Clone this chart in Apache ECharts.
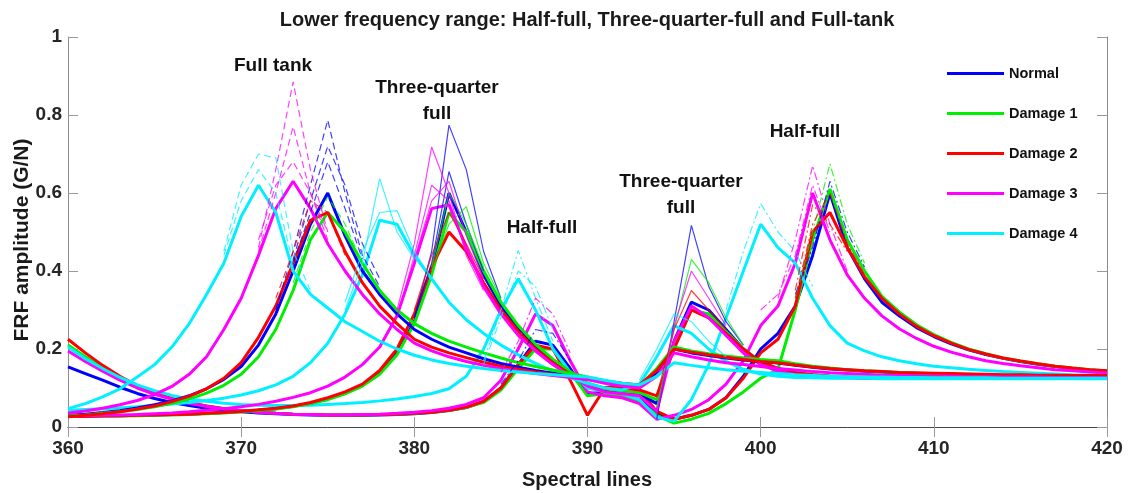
<!DOCTYPE html>
<html><head><meta charset="utf-8">
<script src="https://cdn.jsdelivr.net/npm/echarts@6/dist/echarts.min.js"></script>
<style>html,body{margin:0;padding:0;background:#fff}#c{width:1131px;height:493px}</style>
</head><body><div id="c"></div>
<script>
// ---------- DATA ----------
const spectralLines = [360,361,362,363,364,365,366,367,368,369,370,371,372,373,374,375,376,377,378,379,380,381,382,383,384,385,386,387,388,389,390,391,392,393,394,395,396,397,398,399,400,401,402,403,404,405,406,407,408,409,410,411,412,413,414,415,416,417,418,419,420];
const xTickLabels = ['360','370','380','390','400','410','420'];
const yTickLabels = ['0','0.2','0.4','0.6','0.8','1'];
const damageNames = ['Normal','Damage 1','Damage 2','Damage 3','Damage 4'];

// Full tank (dashed in original)
const fullNormal = [0.030,0.033,0.037,0.042,0.049,0.057,0.067,0.080,0.098,0.122,
 0.155,0.21,0.29,0.40,0.52,0.60,0.49,0.40,0.34,0.29,
 0.25,0.225,0.205,0.19,0.175,0.163,0.153,0.145,0.138,0.13,
 0.124,0.115,0.108,0.105,0.14,0.2,0.19,0.183,0.177,0.172,
 0.168,0.164,0.158,0.153,0.149,0.146,0.143,0.141,0.139,0.137,
 0.136,0.135,0.134,0.133,0.132,0.132,0.131,0.131,0.13,0.13,0.13];
const fullDamage1 = [0.028,0.031,0.035,0.039,0.045,0.052,0.061,0.072,0.087,0.107,
 0.135,0.18,0.25,0.35,0.48,0.55,0.50,0.42,0.35,0.30,
 0.265,0.24,0.22,0.205,0.19,0.177,0.165,0.155,0.146,0.137,
 0.128,0.118,0.11,0.105,0.15,0.205,0.195,0.188,0.182,0.177,
 0.173,0.17,0.162,0.156,0.151,0.147,0.144,0.142,0.14,0.138,
 0.137,0.136,0.135,0.134,0.133,0.133,0.132,0.132,0.131,0.131,0.131];
const fullDamage2 = [0.026,0.03,0.034,0.039,0.046,0.054,0.065,0.079,0.098,0.125,
 0.165,0.23,0.31,0.42,0.53,0.55,0.45,0.37,0.31,0.265,
 0.225,0.205,0.19,0.178,0.166,0.156,0.148,0.141,0.135,0.128,
 0.122,0.118,0.112,0.108,0.145,0.2,0.192,0.185,0.179,0.173,
 0.168,0.165,0.159,0.154,0.15,0.147,0.144,0.142,0.14,0.139,
 0.138,0.137,0.136,0.135,0.134,0.134,0.133,0.133,0.132,0.132,0.132];
const fullDamage3 = [0.036,0.041,0.048,0.057,0.068,0.083,0.104,0.135,0.18,0.25,
 0.33,0.44,0.56,0.63,0.56,0.47,0.40,0.34,0.29,0.25,
 0.215,0.195,0.18,0.168,0.158,0.15,0.143,0.137,0.132,0.127,
 0.122,0.112,0.105,0.1,0.13,0.19,0.18,0.172,0.165,0.16,
 0.155,0.15,0.146,0.142,0.139,0.137,0.135,0.133,0.132,0.131,
 0.13,0.13,0.129,0.129,0.128,0.128,0.128,0.127,0.127,0.127,0.127];
const fullDamage4 = [0.047,0.06,0.077,0.098,0.128,0.16,0.205,0.265,0.34,0.42,
 0.54,0.62,0.55,0.40,0.34,0.305,0.27,0.245,0.22,0.2,
 0.184,0.172,0.163,0.156,0.15,0.145,0.141,0.137,0.134,0.131,
 0.128,0.12,0.112,0.108,0.13,0.165,0.158,0.152,0.147,0.143,
 0.14,0.137,0.134,0.132,0.13,0.129,0.128,0.128,0.127,0.127,
 0.126,0.126,0.126,0.126,0.125,0.125,0.125,0.125,0.125,0.125,0.125];

// Three-quarter full (solid)
const tqNormal = [0.028,0.028,0.029,0.029,0.03,0.031,0.032,0.033,0.035,0.037,
 0.04,0.043,0.047,0.053,0.061,0.072,0.087,0.108,0.14,0.19,
 0.27,0.4,0.6,0.5,0.39,0.31,0.25,0.205,0.168,0.138,
 0.11,0.096,0.09,0.085,0.06,0.22,0.32,0.3,0.25,0.2,
 0.165,0.148,0.138,0.132,0.129,0.127,0.126,0.126,0.125,0.125,
 0.125,0.125,0.125,0.125,0.125,0.125,0.125,0.125,0.125,0.125,0.125];
const tqDamage1 = [0.027,0.027,0.028,0.028,0.029,0.03,0.031,0.032,0.034,0.036,
 0.039,0.042,0.046,0.052,0.06,0.07,0.085,0.105,0.135,0.185,
 0.265,0.39,0.55,0.5,0.4,0.32,0.26,0.212,0.174,0.142,
 0.113,0.098,0.092,0.088,0.07,0.21,0.3,0.29,0.245,0.2,
 0.167,0.15,0.14,0.134,0.131,0.129,0.128,0.128,0.127,0.127,
 0.127,0.127,0.127,0.127,0.127,0.127,0.127,0.127,0.127,0.127,0.127];
const tqDamage2 = [0.027,0.027,0.028,0.029,0.03,0.031,0.032,0.033,0.035,0.037,
 0.04,0.044,0.048,0.054,0.063,0.075,0.09,0.11,0.145,0.2,
 0.29,0.41,0.5,0.45,0.37,0.3,0.245,0.2,0.165,0.135,
 0.11,0.1,0.1,0.095,0.08,0.2,0.3,0.28,0.24,0.2,
 0.167,0.15,0.14,0.134,0.13,0.128,0.127,0.127,0.126,0.126,
 0.126,0.126,0.126,0.126,0.126,0.126,0.126,0.126,0.126,0.126,0.126];
const tqDamage3 = [0.028,0.029,0.03,0.031,0.032,0.034,0.036,0.039,0.043,0.047,
 0.052,0.058,0.066,0.076,0.088,0.105,0.128,0.16,0.205,0.285,
 0.42,0.56,0.57,0.46,0.36,0.29,0.235,0.195,0.16,0.13,
 0.105,0.09,0.085,0.08,0.04,0.22,0.31,0.28,0.235,0.19,
 0.16,0.143,0.134,0.129,0.127,0.126,0.125,0.125,0.125,0.125,
 0.125,0.125,0.125,0.125,0.125,0.125,0.125,0.125,0.125,0.125,0.125];
const tqDamage4 = [0.043,0.045,0.047,0.049,0.052,0.055,0.059,0.063,0.068,0.074,
 0.082,0.093,0.108,0.13,0.165,0.215,0.29,0.39,0.53,0.52,
 0.44,0.38,0.32,0.275,0.24,0.21,0.185,0.163,0.143,0.126,
 0.112,0.1,0.095,0.11,0.18,0.26,0.24,0.2,0.168,0.148,
 0.136,0.13,0.127,0.126,0.125,0.125,0.125,0.124,0.124,0.124,
 0.124,0.124,0.124,0.124,0.124,0.124,0.124,0.124,0.124,0.124,0.124];

// Half-full (dash-dot)
const halfNormal = [0.154,0.137,0.12,0.102,0.086,0.073,0.063,0.055,0.048,0.043,
 0.039,0.036,0.034,0.032,0.031,0.03,0.03,0.03,0.031,0.032,
 0.034,0.037,0.042,0.05,0.065,0.1,0.16,0.22,0.21,0.15,
 0.085,0.09,0.085,0.07,0.035,0.02,0.03,0.045,0.075,0.13,
 0.2,0.24,0.31,0.44,0.6,0.46,0.38,0.32,0.285,0.255,
 0.232,0.213,0.198,0.186,0.176,0.168,0.161,0.155,0.15,0.146,0.143];
const halfDamage1 = [0.21,0.18,0.152,0.126,0.104,0.086,0.072,0.062,0.054,0.047,
 0.042,0.038,0.035,0.033,0.032,0.031,0.031,0.031,0.032,0.033,
 0.035,0.038,0.043,0.05,0.063,0.095,0.15,0.2,0.2,0.14,
 0.08,0.085,0.08,0.065,0.03,0.01,0.02,0.035,0.06,0.09,
 0.125,0.148,0.3,0.48,0.61,0.48,0.4,0.335,0.295,0.262,
 0.237,0.217,0.2,0.188,0.177,0.169,0.162,0.156,0.151,0.147,0.144];
const halfDamage2 = [0.225,0.19,0.158,0.13,0.106,0.087,0.073,0.062,0.054,0.047,
 0.042,0.038,0.035,0.033,0.032,0.031,0.031,0.031,0.032,0.033,
 0.035,0.038,0.043,0.051,0.066,0.1,0.16,0.21,0.2,0.12,
 0.03,0.1,0.11,0.095,0.04,0.02,0.03,0.045,0.075,0.125,
 0.19,0.225,0.31,0.5,0.55,0.46,0.385,0.33,0.29,0.258,
 0.234,0.215,0.199,0.187,0.177,0.169,0.162,0.156,0.151,0.147,0.144];
const halfDamage3 = [0.195,0.168,0.143,0.12,0.1,0.084,0.071,0.061,0.053,0.047,
 0.042,0.038,0.035,0.033,0.032,0.031,0.031,0.032,0.033,0.035,
 0.038,0.042,0.048,0.058,0.075,0.12,0.2,0.29,0.26,0.17,
 0.09,0.08,0.075,0.06,0.02,0.03,0.045,0.07,0.11,0.17,
 0.26,0.31,0.42,0.6,0.48,0.39,0.33,0.285,0.252,0.227,
 0.207,0.192,0.18,0.17,0.163,0.157,0.152,0.147,0.144,0.141,0.138];
const halfDamage4 = [0.205,0.175,0.15,0.127,0.108,0.093,0.081,0.072,0.066,0.061,
 0.058,0.056,0.055,0.055,0.056,0.058,0.06,0.063,0.067,0.072,
 0.078,0.086,0.098,0.13,0.2,0.3,0.38,0.3,0.2,0.14,
 0.1,0.09,0.085,0.07,0.025,0.015,0.07,0.16,0.28,0.4,
 0.52,0.46,0.42,0.33,0.26,0.215,0.195,0.18,0.17,0.162,
 0.156,0.152,0.148,0.145,0.142,0.14,0.138,0.136,0.134,0.133,0.132];

// Individual repeat measurements that stand out near the peaks ([spectral line, amplitude])
const fullNormalRepA = [[372,0.3],[373,0.45],[374,0.62],[375,0.787],[376,0.6],[377,0.44],[378,0.36]];
const fullNormalRepB = [[373,0.42],[374,0.55],[375,0.68],[376,0.56],[377,0.43]];
const fullNormalRepC = [[373,0.43],[374,0.58],[375,0.72],[376,0.62],[377,0.47],[378,0.38]];
const fullDamage1Rep = [[373,0.37],[374,0.5],[375,0.59],[376,0.52],[377,0.42]];
const fullDamage2Rep = [[372,0.33],[373,0.45],[374,0.58],[375,0.55],[376,0.44]];
const fullDamage3RepA = [[371,0.46],[372,0.66],[373,0.885],[374,0.66],[375,0.5]];
const fullDamage3RepB = [[371,0.45],[372,0.6],[373,0.77],[374,0.6],[375,0.48]];
const fullDamage3RepC = [[371,0.48],[372,0.62],[373,0.68],[374,0.6],[375,0.5]];
const fullDamage4Rep = [[369,0.45],[370,0.62],[371,0.70],[372,0.69],[373,0.45],[374,0.35]];
const fullDamage4RepB = [[369,0.44],[370,0.58],[371,0.66],[372,0.6],[373,0.42]];
const tqNormalRepA = [[380,0.28],[381,0.45],[382,0.774],[383,0.66],[384,0.45],[385,0.33]];
const tqNormalRepB = [[380,0.28],[381,0.42],[382,0.655],[383,0.52],[384,0.4]];
const tqDamage1Rep = [[381,0.4],[382,0.52],[383,0.565],[384,0.42],[385,0.33]];
const tqDamage1RepB = [[381,0.41],[382,0.6],[383,0.52],[384,0.41]];
const tqDamage2Rep = [[380,0.3],[381,0.44],[382,0.55],[383,0.47],[384,0.38]];
const tqDamage3RepA = [[379,0.3],[380,0.47],[381,0.718],[382,0.6],[383,0.44],[384,0.35]];
const tqDamage3RepB = [[379,0.28],[380,0.44],[381,0.62],[382,0.58],[383,0.45]];
const tqDamage3RepC = [[380,0.43],[381,0.58],[382,0.63],[383,0.49],[384,0.38]];
const tqDamage4RepA = [[376,0.3],[377,0.42],[378,0.637],[379,0.5],[380,0.43]];
const tqDamage4RepB = [[376,0.32],[377,0.45],[378,0.55],[379,0.555],[380,0.45],[381,0.38]];
const tqNormalRep2 = [[394,0.02],[395,0.27],[396,0.517],[397,0.36],[398,0.27],[399,0.21]];
const tqDamage1Rep2 = [[394,0.05],[395,0.25],[396,0.43],[397,0.37],[398,0.28],[399,0.21]];
const tqDamage2Rep2 = [[394,0.08],[395,0.25],[396,0.35],[397,0.3],[398,0.25]];
const tqDamage3Rep2 = [[394,0.03],[395,0.26],[396,0.40],[397,0.33],[398,0.26]];
const tqDamage4Rep2 = [[393,0.12],[394,0.2],[395,0.29],[396,0.27],[397,0.22],[398,0.18]];
const halfDamage4RepA = [[384,0.17],[385,0.3],[386,0.453],[387,0.33],[388,0.22]];
const halfDamage4RepB = [[384,0.16],[385,0.28],[386,0.4],[387,0.36],[388,0.25]];
const halfDamage3Rep = [[385,0.14],[386,0.22],[387,0.33],[388,0.29],[389,0.19]];
const halfNormalRep = [[385,0.11],[386,0.17],[387,0.25],[388,0.24],[389,0.17]];
const halfDamage4Rep2 = [[398,0.3],[399,0.45],[400,0.573],[401,0.5],[402,0.45],[403,0.36]];
const halfDamage3Rep2 = [[401,0.33],[402,0.48],[403,0.67],[404,0.52],[405,0.4]];
const halfDamage3RepB = [[400,0.3],[401,0.34],[402,0.44],[403,0.62],[404,0.5]];
const halfDamage1Rep2 = [[402,0.33],[403,0.5],[404,0.675],[405,0.52],[406,0.42]];
const halfNormalRep2 = [[402,0.34],[403,0.46],[404,0.63],[405,0.5],[406,0.41]];
const halfDamage2Rep2 = [[402,0.35],[403,0.57],[404,0.52],[405,0.45]];
const halfDamage2RepB = [[402,0.33],[403,0.52],[404,0.6],[405,0.47],[406,0.39]];

// ---------- STYLE ----------
const colors = {'Normal':'#0000ff','Damage 1':'#00ee00','Damage 2':'#ff0000','Damage 3':'#ff00ff','Damage 4':'#00f0ff'};
const FONT = '"Liberation Sans", Arial, Helvetica, sans-serif';
const DASH = [7,4];
const DASHDOT = [8,3,2,3];

function mainSeries(name, arr) {
  return {type:'line', name, data: spectralLines.map((x,i)=>[x,arr[i]]), symbol:'none',
    lineStyle:{color:colors[name], width:3}, itemStyle:{color:colors[name]}, silent:true, z:2};
}
function repSeries(name, pairs, type) {
  return {type:'line', name, data: pairs, symbol:'none',
    lineStyle:{color:colors[name], width:1.2, type, opacity:0.75}, itemStyle:{color:colors[name]}, silent:true, z:3};
}

const series = [
  mainSeries('Normal', halfNormal), mainSeries('Damage 1', halfDamage1), mainSeries('Damage 2', halfDamage2),
  mainSeries('Damage 3', halfDamage3), mainSeries('Damage 4', halfDamage4),
  mainSeries('Normal', tqNormal), mainSeries('Damage 1', tqDamage1), mainSeries('Damage 2', tqDamage2),
  mainSeries('Damage 3', tqDamage3), mainSeries('Damage 4', tqDamage4),
  mainSeries('Normal', fullNormal), mainSeries('Damage 1', fullDamage1), mainSeries('Damage 2', fullDamage2),
  mainSeries('Damage 3', fullDamage3), mainSeries('Damage 4', fullDamage4),
  repSeries('Normal', fullNormalRepA, DASH), repSeries('Normal', fullNormalRepB, DASH), repSeries('Normal', fullNormalRepC, DASH),
  repSeries('Damage 1', fullDamage1Rep, DASH), repSeries('Damage 2', fullDamage2Rep, DASH),
  repSeries('Damage 3', fullDamage3RepA, DASH), repSeries('Damage 3', fullDamage3RepB, DASH), repSeries('Damage 3', fullDamage3RepC, DASH),
  repSeries('Damage 4', fullDamage4Rep, DASH), repSeries('Damage 4', fullDamage4RepB, DASH),
  repSeries('Normal', tqNormalRepA, 'solid'), repSeries('Normal', tqNormalRepB, 'solid'),
  repSeries('Damage 1', tqDamage1Rep, 'solid'), repSeries('Damage 1', tqDamage1RepB, 'solid'),
  repSeries('Damage 2', tqDamage2Rep, 'solid'),
  repSeries('Damage 3', tqDamage3RepA, 'solid'), repSeries('Damage 3', tqDamage3RepB, 'solid'), repSeries('Damage 3', tqDamage3RepC, 'solid'),
  repSeries('Damage 4', tqDamage4RepA, 'solid'), repSeries('Damage 4', tqDamage4RepB, 'solid'),
  repSeries('Normal', tqNormalRep2, 'solid'), repSeries('Damage 1', tqDamage1Rep2, 'solid'),
  repSeries('Damage 2', tqDamage2Rep2, 'solid'), repSeries('Damage 3', tqDamage3Rep2, 'solid'),
  repSeries('Damage 4', tqDamage4Rep2, 'solid'),
  repSeries('Damage 4', halfDamage4RepA, DASHDOT), repSeries('Damage 4', halfDamage4RepB, DASHDOT),
  repSeries('Damage 3', halfDamage3Rep, DASHDOT), repSeries('Normal', halfNormalRep, DASHDOT),
  repSeries('Damage 4', halfDamage4Rep2, DASHDOT),
  repSeries('Damage 3', halfDamage3Rep2, DASHDOT), repSeries('Damage 3', halfDamage3RepB, DASHDOT),
  repSeries('Damage 1', halfDamage1Rep2, DASHDOT),
  repSeries('Normal', halfNormalRep2, DASHDOT), repSeries('Damage 2', halfDamage2Rep2, DASHDOT),
  repSeries('Damage 2', halfDamage2RepB, DASHDOT)
];

const axisTextColor = '#262626';
const sideLine = {show:true, lineStyle:{color:'#8c8c8c', width:1}};
const tick = {show:true, inside:true, length:10, lineStyle:{color:'#9a9a9a'}};

const option = {
  animation:false,
  backgroundColor:'#ffffff',
  grid:{left:68, right:24, top:37, bottom:66},
  xAxis:[
    {type:'value', min:360, max:420, interval:10, position:'bottom', axisLine:sideLine, axisTick:tick,
     splitLine:{show:false},
     axisLabel:{margin:12, color:axisTextColor, fontSize:19, fontWeight:'bold', fontFamily:FONT,
       formatter:(v)=>xTickLabels[Math.round((v-360)/10)]}},
    {type:'value', min:360, max:420, interval:10, position:'top', axisLine:{show:true, lineStyle:{color:'#444', width:1}},
     axisTick:tick, axisLabel:{show:false}, splitLine:{show:false}}
  ],
  yAxis:[
    {type:'value', min:0, max:1, interval:0.2, position:'left', axisLine:sideLine, axisTick:tick,
     splitLine:{show:false},
     axisLabel:{margin:6, color:axisTextColor, fontSize:19, fontWeight:'bold', fontFamily:FONT,
       formatter:(v)=>yTickLabels[Math.round(v/0.2)]}},
    {type:'value', min:0, max:1, interval:0.2, position:'right', axisLine:sideLine, axisTick:tick,
     axisLabel:{show:false}, splitLine:{show:false}}
  ],
  legend:{
    data:damageNames, orient:'vertical', left:947, top:66, itemGap:25, itemWidth:57, itemHeight:3,
    icon:'rect', padding:0, selectedMode:false,
    textStyle:{color:'#111', fontSize:14.5, fontWeight:'bold', fontFamily:FONT, lineHeight:14}
  },
  graphic:[
    {type:'text', x:587, y:20, silent:true, style:{text:'Lower frequency range: Half-full, Three-quarter-full and Full-tank',
      font:'bold 20px '+FONT, fill:'#1a1a1a', align:'center', verticalAlign:'middle'}},
    {type:'text', x:587, y:480, silent:true, style:{text:'Spectral lines', font:'bold 20px '+FONT, fill:'#1a1a1a', align:'center', verticalAlign:'middle'}},
    {type:'text', x:22, y:240, rotation:Math.PI/2, silent:true, style:{text:'FRF amplitude (G/N)', font:'bold 21px '+FONT, fill:'#1a1a1a', align:'center', verticalAlign:'middle'}},
    {type:'text', x:273, y:66, silent:true, z:10, style:{text:'Full tank', font:'bold 19px '+FONT, fill:'#111', align:'center', verticalAlign:'middle'}},
    {type:'text', x:437, y:101, silent:true, z:10, style:{text:'Three-quarter\nfull', font:'bold 19px '+FONT, lineHeight:26, fill:'#111', align:'center', verticalAlign:'middle'}},
    {type:'text', x:542, y:228, silent:true, z:10, style:{text:'Half-full', font:'bold 19px '+FONT, fill:'#111', align:'center', verticalAlign:'middle'}},
    {type:'text', x:681, y:195, silent:true, z:10, style:{text:'Three-quarter\nfull', font:'bold 19px '+FONT, lineHeight:26, fill:'#111', align:'center', verticalAlign:'middle'}},
    {type:'text', x:805, y:132, silent:true, z:10, style:{text:'Half-full', font:'bold 19px '+FONT, fill:'#111', align:'center', verticalAlign:'middle'}}
  ],
  series
};
const chart = echarts.init(document.getElementById('c'), null, {renderer:'canvas'});
chart.setOption(option);
</script></body></html>
